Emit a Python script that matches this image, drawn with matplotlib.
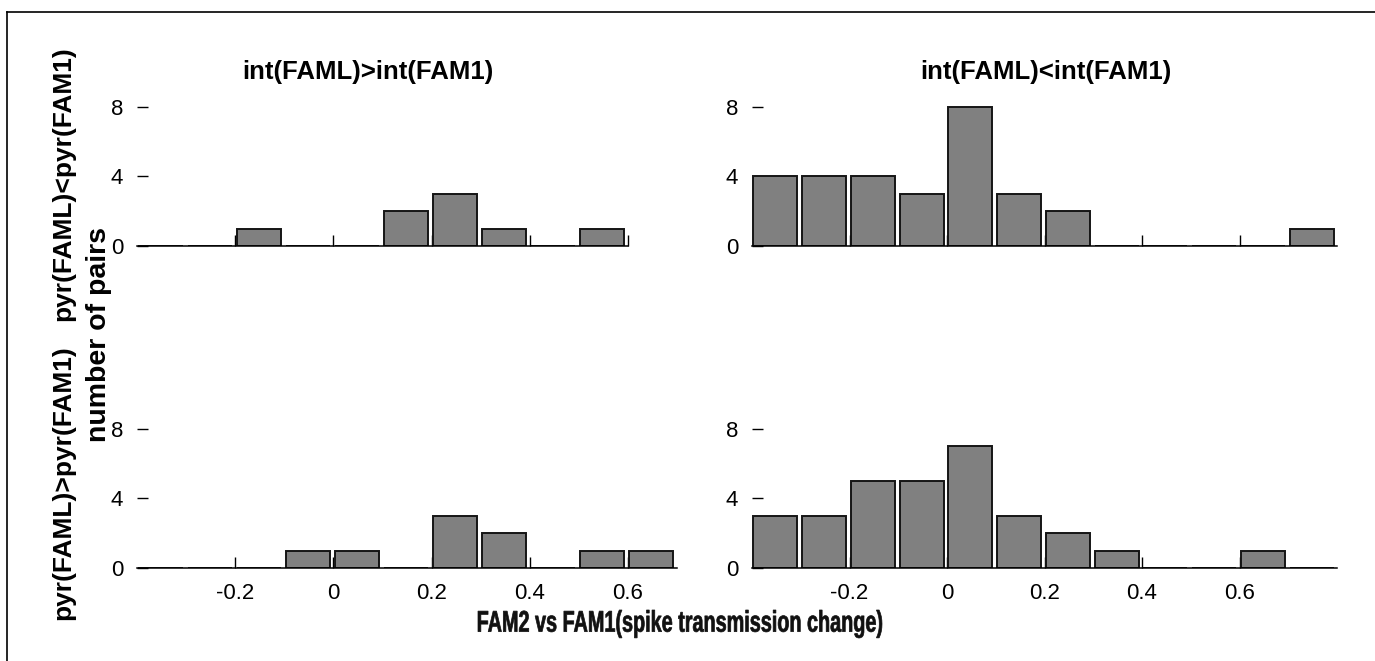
import numpy as np
import matplotlib
matplotlib.use('Agg')
import matplotlib.pyplot as plt
from matplotlib.lines import Line2D
from matplotlib.textpath import TextPath
from matplotlib.patches import PathPatch
from matplotlib.font_manager import FontProperties
from matplotlib.transforms import Affine2D, IdentityTransform

plt.rcParams['font.family'] = ['Liberation Sans', 'DejaVu Sans']

# histogram data: bins of width 0.1 starting at -0.4
bin_start = -0.4
bin_width = 0.1
counts_top_left = [0, 0, 1, 0, 0, 2, 3, 1, 0, 1]
counts_top_right = [4, 4, 4, 3, 8, 3, 2, 0, 0, 0, 0, 1]
counts_bot_left = [0, 0, 0, 1, 1, 0, 3, 2, 0, 1, 1]
counts_bot_right = [3, 3, 5, 5, 7, 3, 2, 1, 0, 0, 1, 0]
axis_end = [0.6, 0.8, 0.7, 0.8]
xticks = [-0.2, 0, 0.2, 0.4, 0.6]
xticklabels = ['-0.2', '0', '0.2', '0.4', '0.6']
yticks = [0, 4, 8]
col_titles = ['int(FAML)>int(FAM1)', 'int(FAML)<int(FAM1)']
row_labels = ['pyr(FAML)<pyr(FAM1)', 'pyr(FAML)>pyr(FAM1)']
ylabel = 'number of pairs'
xlabel = 'FAM2 vs FAM1(spike transmission change)'

W, H = 1375, 661
fig = plt.figure(figsize=(W / 100, H / 100), dpi=100)

# axes boxes in pixels: (left, bottom, width, height)
boxes = [(137, 415, 589, 148), (752, 415, 585, 148),
         (137, 93, 589, 148), (752, 93, 585, 148)]
all_counts = [counts_top_left, counts_top_right, counts_bot_left, counts_bot_right]

axes = []
for i, (box, counts) in enumerate(zip(boxes, all_counts)):
    l, b, w, h = box
    ax = fig.add_axes([l / W, b / H, w / W, h / H])
    edges = bin_start + bin_width * np.arange(len(counts))
    ax.bar(edges + 0.003, counts, width=0.09, align='edge',
           facecolor='#808080', edgecolor='#151515', linewidth=1.4, zorder=3)
    ax.set_xlim(-0.4, 0.8)
    ax.set_ylim(0, 8.5)
    for s in ['top', 'right', 'left']:
        ax.spines[s].set_visible(False)
    ax.spines['bottom'].set_bounds(-0.4, axis_end[i])
    ax.spines['bottom'].set_linewidth(1.1)
    ax.spines['bottom'].set_zorder(4)
    ax.set_xticks(xticks)
    ax.set_yticks(yticks)
    ax.tick_params(axis='x', direction='in', length=8, width=1, pad=11,
                   labelsize=16)
    ax.tick_params(axis='y', direction='in', length=8, width=1, pad=10,
                   labelsize=16)
    if i < 2:
        ax.set_xticklabels([])
    else:
        ax.set_xticklabels(xticklabels)
    axes.append(ax)

# column titles
axes[0].text(0.392, 1.176, col_titles[0], transform=axes[0].transAxes,
             ha='center', va='center', fontsize=18.5, fontweight='bold')
axes[1].text(0.503, 1.176, col_titles[1], transform=axes[1].transAxes,
             ha='center', va='center', fontsize=18.5, fontweight='bold')

# row labels and shared y label
fig.text(63 / W, 1 - 184 / H, row_labels[0], rotation=90, ha='center',
         va='center', fontsize=19, fontweight='bold')
fig.text(63 / W, 1 - 483 / H, row_labels[1], rotation=90, ha='center',
         va='center', fontsize=19, fontweight='bold')
fig.text(99 / W, 1 - 335 / H, ylabel, rotation=90, ha='center',
         va='center', fontsize=20.5, fontweight='bold')

# x label in a condensed bold face (squeezed text path)
tp = TextPath((0, 0), xlabel, size=24,
              prop=FontProperties(family='Liberation Sans', weight='bold'))
ext = tp.get_extents()
sx = 404 / ext.width
sy = 28 / ext.height
cx, cy = 680, H - 624
tr = (Affine2D().translate(-(ext.x0 + ext.width / 2), -(ext.y0 + ext.height / 2))
      .scale(sx, sy).translate(cx, cy) + IdentityTransform())
fig.add_artist(PathPatch(tp, transform=tr, facecolor='#111111',
                         edgecolor='#111111', linewidth=0.5))

# partial frame around the figure
fig.add_artist(Line2D([7 / W, 7 / W], [0, 1 - 12 / H], color='black', lw=1.2))
fig.add_artist(Line2D([7 / W, 1], [1 - 12 / H, 1 - 12 / H], color='black', lw=1.2))

fig.savefig('out.png', dpi=100)
